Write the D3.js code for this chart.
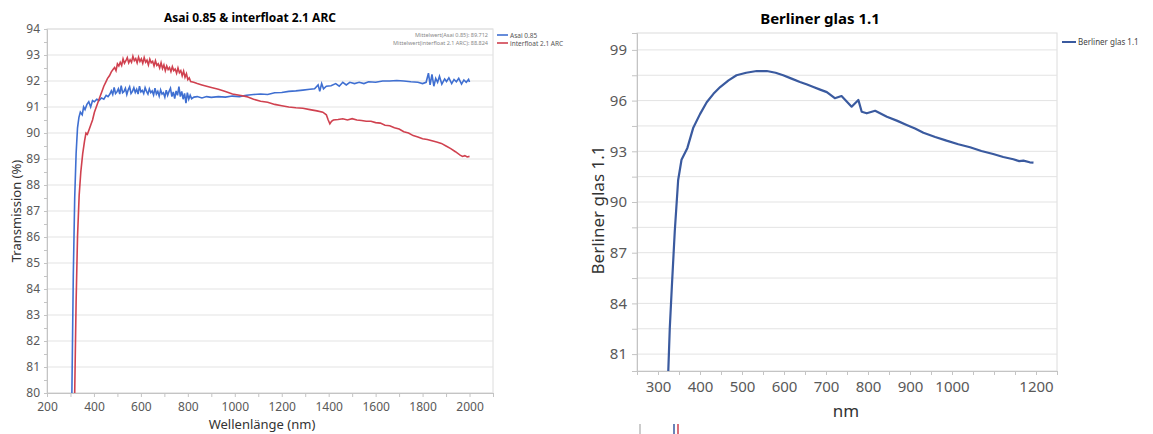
<!DOCTYPE html>
<html>
<head>
<meta charset="utf-8">
<script src="https://cdn.jsdelivr.net/npm/d3@7"></script>
<style>
  body { margin: 0; background: #fff; }
  text { font-family: "Noto Sans", "Open Sans", sans-serif; }
</style>
</head>
<body>
<div id="chart"></div>
<script>
// Asai 0.85 (nm, %)
var asai = [[306,80],[312,84.5],[318,87.5],[324,89.2],[330,90.2],[336,90.6],[342,90.8],[350,90.7],[356,91.0],[362,90.9],[370,91.1],[378,91.2],[386,91.0],[394,91.25],[402,91.2],[412,91.3],[422,91.25],[432,91.35],[442,91.3],[452,91.45],[460,91.4],[468,91.5],[474,91.62],[480,91.48],[486,91.75],[492,91.52],[498,91.58],[504,91.7],[510,91.5],[516,91.82],[522,91.55],[528,91.6],[534,91.72],[540,91.48],[546,91.66],[552,91.78],[558,91.52],[564,91.6],[570,91.74],[576,91.56],[582,91.68],[588,91.5],[594,91.8],[600,91.58],[606,91.64],[612,91.52],[618,91.74],[624,91.6],[630,91.5],[636,91.7],[642,91.55],[648,91.62],[654,91.46],[660,91.72],[666,91.5],[672,91.6],[678,91.42],[684,91.66],[690,91.5],[696,91.55],[702,91.38],[708,91.65],[714,91.45],[720,91.6],[726,91.72],[732,91.4],[738,91.58],[744,91.32],[750,91.62],[756,91.45],[762,91.78],[768,91.4],[774,91.6],[780,91.3],[786,91.52],[792,91.15],[798,91.55],[804,91.3],[810,91.45],[816,91.32],[826,91.38],[840,91.4],[860,91.35],[880,91.4],[900,91.37],[930,91.4],[960,91.38],[990,91.42],[1020,91.4],[1050,91.45],[1080,91.48],[1110,91.5],[1140,91.48],[1170,91.55],[1200,91.56],[1230,91.6],[1260,91.62],[1290,91.65],[1320,91.68],[1340,91.7],[1355,91.85],[1362,91.6],[1370,91.9],[1378,91.7],[1390,91.8],[1410,91.82],[1430,91.9],[1445,91.8],[1460,91.95],[1475,91.85],[1490,91.95],[1510,91.9],[1530,91.95],[1550,91.9],[1570,91.97],[1600,91.95],[1630,92.0],[1660,92.0],[1690,92.02],[1720,92.0],[1750,91.97],[1780,91.95],[1800,91.9],[1815,91.95],[1825,92.3],[1832,91.85],[1840,92.25],[1848,91.8],[1856,92.1],[1864,91.95],[1872,92.18],[1882,91.88],[1894,92.08],[1902,91.98],[1912,92.12],[1924,91.9],[1934,92.06],[1944,91.97],[1954,92.1],[1966,91.88],[1976,92.04],[1986,91.95],[1996,92.06],[2000,91.96]];

// interfloat 2.1 ARC (nm, %)
var interfloat = [[318,80],[324,83.5],[330,86],[337,87.6],[344,88.5],[352,89.2],[360,89.7],[366,90.0],[372,89.95],[378,90.1],[386,90.3],[394,90.5],[402,90.8],[410,91.0],[418,91.2],[426,91.4],[434,91.6],[442,91.8],[450,91.95],[458,92.1],[466,92.2],[474,92.35],[482,92.45],[488,92.52],[494,92.4],[500,92.66],[506,92.58],[512,92.72],[518,92.6],[524,92.85],[530,92.68],[536,92.78],[542,92.9],[548,92.7],[554,92.82],[560,92.72],[566,92.95],[572,92.78],[578,92.86],[584,92.7],[590,92.92],[596,92.75],[602,92.85],[608,92.68],[614,92.9],[620,92.72],[626,92.8],[632,92.62],[638,92.84],[644,92.7],[650,92.76],[656,92.58],[662,92.78],[668,92.6],[674,92.66],[680,92.5],[686,92.7],[692,92.48],[698,92.62],[704,92.4],[710,92.58],[716,92.44],[722,92.52],[728,92.36],[734,92.55],[740,92.4],[746,92.46],[752,92.3],[758,92.5],[764,92.32],[770,92.4],[776,92.2],[782,92.38],[788,92.14],[794,92.28],[800,92.05],[806,92.12],[812,91.98],[825,91.95],[840,91.9],[860,91.85],[880,91.8],[900,91.75],[930,91.68],[960,91.6],[990,91.5],[1020,91.45],[1050,91.4],[1080,91.3],[1110,91.22],[1140,91.18],[1170,91.1],[1200,91.05],[1230,91.0],[1260,90.97],[1290,90.95],[1320,90.9],[1350,90.85],[1375,90.8],[1390,90.7],[1398,90.5],[1405,90.35],[1412,90.45],[1420,90.5],[1440,90.52],[1460,90.55],[1480,90.5],[1500,90.55],[1520,90.5],[1540,90.48],[1560,90.45],[1580,90.45],[1600,90.4],[1620,90.38],[1640,90.3],[1660,90.28],[1680,90.2],[1700,90.15],[1720,90.05],[1740,90.0],[1760,89.9],[1780,89.85],[1800,89.78],[1820,89.75],[1840,89.7],[1860,89.65],[1880,89.6],[1900,89.5],[1920,89.4],[1940,89.28],[1960,89.15],[1970,89.1],[1980,89.13],[1990,89.08],[2000,89.1]];

// Berliner glas 1.1 (nm, %)
var berliner = [[324.5,80],[328,82.5],[333,85],[340,88.3],[348,91.3],[356,92.5],[370,93.2],[384,94.4],[400,95.2],[416,95.9],[432,96.4],[448,96.8],[468,97.2],[487,97.5],[510,97.65],[535,97.75],[559,97.75],[580,97.65],[598,97.5],[618,97.3],[638,97.1],[655,96.95],[670,96.8],[686,96.65],[702,96.5],[721,96.14],[737,96.27],[761,95.64],[777,96.04],[785,95.34],[797,95.25],[817,95.4],[845,95.05],[870,94.8],[892,94.56],[912,94.35],[932,94.1],[960,93.85],[987,93.63],[1015,93.42],[1043,93.24],[1070,93.02],[1098,92.84],[1122,92.66],[1146,92.53],[1160,92.42],[1170,92.45],[1185,92.35],[1194,92.33]];

var leftXTicks = [200,400,600,800,1000,1200,1400,1600,1800,2000];
var leftYTicks = [80,81,82,83,84,85,86,87,88,89,90,91,92,93,94];
var rightXTicks = [300,400,500,600,700,800,900,1000,1200];
var rightYTicks = [81,84,87,90,93,96,99];
var meanTexts = ["Mittelwert(Asai 0.85): 89.712", "Mittelwert(interfloat 2.1 ARC): 88.824"];
var leftNames = ["Asai 0.85", "interfloat 2.1 ARC"];

var blue = "#3f6fd1", red = "#d0414f", navy = "#3a5a9f";
var grid = "#e3e3e3", axisCol = "#c4c4c4", label = "#595959";

var svg = d3.select("#chart").append("svg")
  .attr("width", 1153).attr("height", 434)
  .style("display", "block");

//---------- left chart
var lx = d3.scaleLinear().domain([200, 2100]).range([47, 493]);
var ly = d3.scaleLinear().domain([80, 94]).range([393, 29]);

var left = svg.append("g");

left.append("rect")
  .attr("x", 47).attr("y", 29).attr("width", 446).attr("height", 364)
  .attr("fill", "none").attr("stroke", "#dcdcdc");

left.selectAll("line.grid")
  .data(leftYTicks)
  .enter().append("line")
    .attr("x1", 47).attr("x2", 493)
    .attr("y1", function(d){ return ly(d); })
    .attr("y2", function(d){ return ly(d); })
    .attr("stroke", grid);

var lxAxis = left.append("g")
  .attr("transform", "translate(0,393)")
  .call(d3.axisBottom(lx).tickValues(d3.range(200, 2101, 100)).tickSize(4)
    .tickFormat(function(d){ return leftXTicks.indexOf(d) >= 0 ? d : ""; }));
var lyAxis = left.append("g")
  .attr("transform", "translate(47,0)")
  .call(d3.axisLeft(ly).tickValues(d3.range(80, 94.01, 0.5)).tickSize(3)
    .tickFormat(function(d){ return leftYTicks.indexOf(d) >= 0 ? d : ""; }));

[lxAxis, lyAxis].forEach(function(a){
  a.select(".domain").attr("stroke", axisCol);
  a.selectAll(".tick line").attr("stroke", axisCol);
  a.selectAll("text").attr("fill", label).style("font-size", "12px");
});
lxAxis.selectAll("text").attr("dy", "0.95em");
lyAxis.selectAll("text").attr("dx", "-1px");

svg.append("clipPath").attr("id", "clipL")
  .append("rect").attr("x", 47).attr("y", 29).attr("width", 446).attr("height", 364);

var lline = d3.line()
  .x(function(d){ return lx(d[0]); })
  .y(function(d){ return ly(d[1]); });

left.append("path").datum(asai)
  .attr("clip-path", "url(#clipL)")
  .attr("fill", "none").attr("stroke", blue).attr("stroke-width", 1.6)
  .attr("d", lline);
left.append("path").datum(interfloat)
  .attr("clip-path", "url(#clipL)")
  .attr("fill", "none").attr("stroke", red).attr("stroke-width", 1.6)
  .attr("d", lline);

left.append("text")
  .attr("x", 250).attr("y", 22)
  .attr("text-anchor", "middle")
  .style("font-size", "12px").style("font-weight", "bold")
  .text("Asai 0.85 & interfloat 2.1 ARC");

left.append("text")
  .attr("x", 262).attr("y", 429)
  .attr("text-anchor", "middle")
  .attr("fill", "#333")
  .style("font-size", "13px")
  .text("Wellenlänge (nm)");

left.append("text")
  .attr("transform", "translate(21,211) rotate(-90)")
  .attr("text-anchor", "middle")
  .attr("fill", "#333")
  .style("font-size", "13px")
  .text("Transmission (%)");

left.selectAll("text.mean")
  .data(meanTexts)
  .enter().append("text")
    .attr("x", 488)
    .attr("y", function(d, i){ return 37 + i*8; })
    .attr("text-anchor", "end")
    .attr("fill", "#888")
    .style("font-size", "5.5px")
    .text(function(d){ return d; });

left.selectAll("line.leg")
  .data(leftNames)
  .enter().append("line")
    .attr("x1", 497).attr("x2", 508)
    .attr("y1", function(d, i){ return 35 + i*8; })
    .attr("y2", function(d, i){ return 35 + i*8; })
    .attr("stroke", function(d, i){ return i ? red : blue; })
    .attr("stroke-width", 1.6);

left.selectAll("text.leg")
  .data(leftNames)
  .enter().append("text")
    .attr("x", 510)
    .attr("y", function(d, i){ return 37.5 + i*8; })
    .attr("fill", "#555")
    .style("font-size", "6.5px")
    .text(function(d){ return d; });

//---------- right chart
var rx = d3.scaleLinear().domain([250, 1250]).range([637, 1057]);
var ry = d3.scaleLinear().domain([80, 100]).range([371, 33]);

var right = svg.append("g");

right.append("rect")
  .attr("x", 637).attr("y", 33).attr("width", 420).attr("height", 338)
  .attr("fill", "none").attr("stroke", "#dcdcdc");

right.selectAll("line.grid")
  .data(d3.range(81, 100, 1.5))
  .enter().append("line")
    .attr("x1", 637).attr("x2", 1057)
    .attr("y1", function(d){ return ry(d); })
    .attr("y2", function(d){ return ry(d); })
    .attr("stroke", grid);

var rxAxis = right.append("g")
  .attr("transform", "translate(0,371)")
  .call(d3.axisBottom(rx).tickValues(d3.range(250, 1251, 50)).tickSize(4)
    .tickFormat(function(d){ return rightXTicks.indexOf(d) >= 0 ? d : ""; }));
var ryAxis = right.append("g")
  .attr("transform", "translate(637,0)")
  .call(d3.axisLeft(ry).tickValues(d3.range(81, 100, 1.5)).tickSize(5)
    .tickFormat(function(d){ return rightYTicks.indexOf(d) >= 0 ? d : ""; }));

[rxAxis, ryAxis].forEach(function(a){
  a.select(".domain").attr("stroke", axisCol);
  a.selectAll(".tick line").attr("stroke", axisCol);
  a.selectAll("text").attr("fill", label).style("font-size", "15px");
});
rxAxis.selectAll("text").attr("dy", "0.9em");
ryAxis.selectAll("text").attr("dx", "-2px");

svg.append("clipPath").attr("id", "clipR")
  .append("rect").attr("x", 637).attr("y", 33).attr("width", 420).attr("height", 338);

var rline = d3.line()
  .x(function(d){ return rx(d[0]); })
  .y(function(d){ return ry(d[1]); });

right.append("path").datum(berliner)
  .attr("clip-path", "url(#clipR)")
  .attr("fill", "none").attr("stroke", navy).attr("stroke-width", 2.2)
  .attr("stroke-linejoin", "round")
  .attr("d", rline);

right.append("text")
  .attr("x", 820).attr("y", 24)
  .attr("text-anchor", "middle")
  .style("font-size", "15px").style("font-weight", "bold")
  .text("Berliner glas 1.1");

right.append("text")
  .attr("x", 846).attr("y", 417)
  .attr("text-anchor", "middle")
  .attr("fill", "#333")
  .style("font-size", "17px")
  .text("nm");

right.append("text")
  .attr("transform", "translate(604,210) rotate(-90)")
  .attr("text-anchor", "middle")
  .attr("fill", "#333")
  .style("font-size", "17px")
  .text("Berliner glas 1.1");

right.append("line")
  .attr("x1", 1062).attr("x2", 1076).attr("y1", 42).attr("y2", 42)
  .attr("stroke", navy).attr("stroke-width", 2);
right.append("text")
  .attr("x", 1078).attr("y", 45)
  .attr("fill", "#444")
  .style("font-size", "8px")
  .text("Berliner glas 1.1");

// little marks under the right chart
svg.selectAll("line.mark")
  .data([["#bbb", 640], [navy, 674], [red, 678]])
  .enter().append("line")
    .attr("x1", function(d){ return d[1]; })
    .attr("x2", function(d){ return d[1]; })
    .attr("y1", 424).attr("y2", 434)
    .attr("stroke", function(d){ return d[0]; })
    .attr("stroke-width", 1.5);
</script>
</body>
</html>
